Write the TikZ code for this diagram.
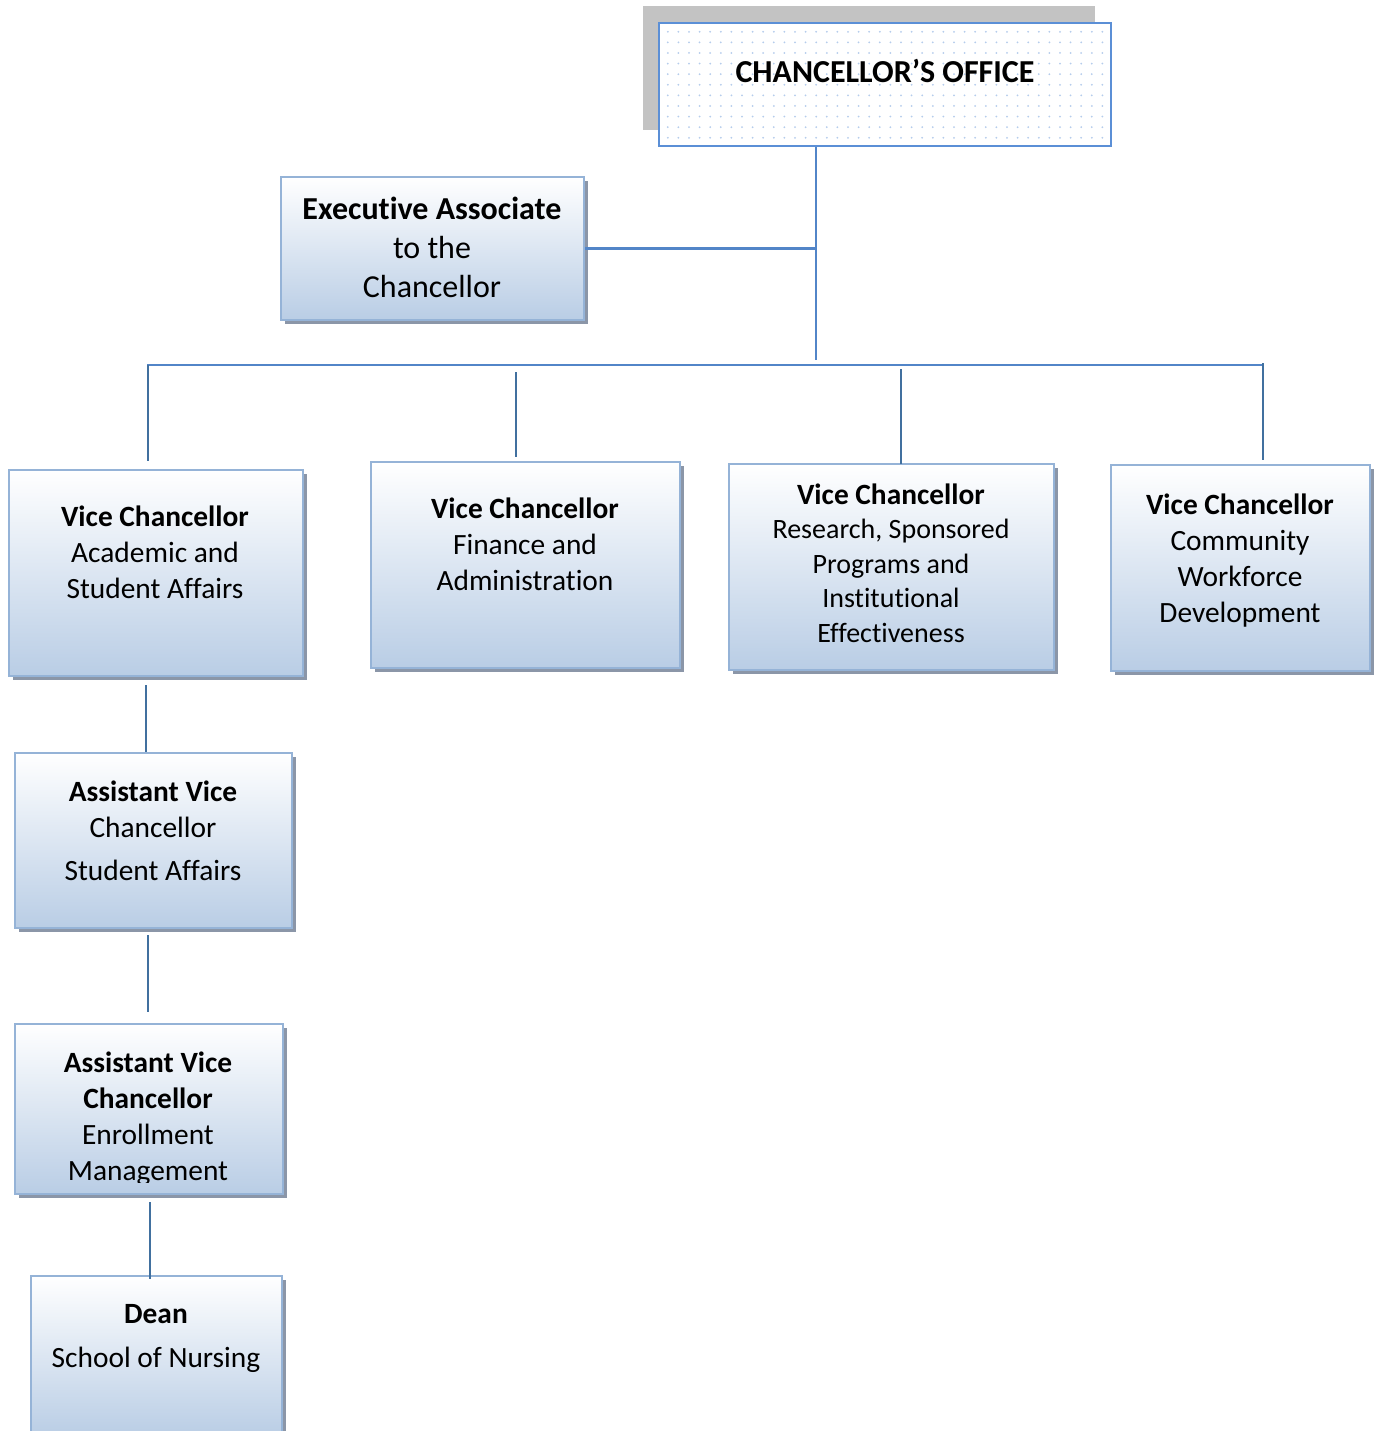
\documentclass[tikz,border=0pt]{standalone}
\usepackage{fontspec}
\setmainfont{Carlito}[Ligatures=NoCommon]
\usetikzlibrary{shadows,patterns.meta}
\definecolor{boxbot}{HTML}{B9CDE5}
\definecolor{boxline}{HTML}{95B3D7}
\definecolor{conn}{HTML}{5285C8}
\definecolor{dropc}{HTML}{41709F}
\definecolor{shade}{HTML}{8B96A8}
\definecolor{chanline}{HTML}{5B8FD6}
\definecolor{chanshadow}{HTML}{C3C3C3}
\definecolor{dotc}{HTML}{B5CCEC}
\begin{document}
\begin{tikzpicture}[x=0.5pt,y=-0.5pt,
  box/.style={draw=boxline, line width=1.2pt, top color=white, bottom color=boxbot, inner sep=0pt,
    drop shadow={shadow xshift=2pt,shadow yshift=-2pt,fill=shade,opacity=1}},
  lbl/.style={inner sep=0pt, align=center, font=\fontsize{14.7}{18}\selectfont},
  lblbig/.style={inner sep=0pt, align=center, font=\fontsize{16}{19.5}\selectfont},
  lblsmall/.style={inner sep=0pt, align=center, font=\fontsize{14}{17.2}\selectfont},
  connline/.style={draw=conn, line width=1.3pt},
  dropline/.style={draw=dropc, line width=1.3pt}]
\useasboundingbox (0,0) rectangle (1377,1431);
\fill[white] (0,0) rectangle (1377,1431);

% Chancellor's office
\node[fill=chanshadow, minimum width=226pt, minimum height=62pt, inner sep=0pt] (chanshadow) at (869,68) {};
\node[draw=chanline, line width=1pt, preaction={fill=white}, pattern={Dots[distance=5.3pt,radius=0.5pt]}, pattern color=dotc,
  minimum width=226pt, minimum height=61.5pt, inner sep=0pt] (chan) at (885,84.5) {};
\node[lblbig, font=\fontsize{16}{19.5}\selectfont\bfseries] (chant) at (885,71) {CHANCELLOR’S OFFICE};

% Executive associate
\node[box, minimum width=151.5pt, minimum height=71.5pt] (exec) at (432.5,248.5) {};
\node[lblbig] (exect) at (432,250.5) {\textbf{Executive Associate}\strut\\to the\\Chancellor\strut};

% Vice chancellors
\node[box, minimum width=147pt, minimum height=103pt] (vca) at (156,573) {};
\node[lbl] (vcat) at (155,555) {\textbf{Vice Chancellor}\strut\\Academic and\\Student Affairs\strut};

\node[box, minimum width=154.5pt, minimum height=103pt] (vcf) at (525.5,565) {};
\node[lbl] (vcft) at (525,547) {\textbf{Vice Chancellor}\strut\\Finance and\\Administration\strut};

\node[box, minimum width=162.5pt, minimum height=103pt] (vcr) at (891.5,567) {};
\node[lblsmall] (vcrt) at (891,566.5) {\textbf{\fontsize{14.7}{17.2}\selectfont Vice Chancellor}\strut\\Research, Sponsored\\Programs and\\Institutional\\Effectiveness\strut};

\node[box, minimum width=129.5pt, minimum height=103pt] (vcc) at (1240.5,568) {};
\node[lbl] (vcct) at (1240,561) {\textbf{Vice Chancellor}\strut\\Community\\Workforce\\Development\strut};

% Lower chain
\node[box, minimum width=138.5pt, minimum height=87.5pt] (avs) at (153.5,840.5) {};
\node[lbl] (avst) at (153,833.5) {\textbf{Assistant Vice}\strut\\Chancellor\\[3.5pt]Student Affairs\strut};

\node[box, minimum width=134pt, minimum height=85pt] (ave) at (149,1109) {};
\begin{scope}
  \clip (0,1000) rectangle (300,1182);
  \node[lbl] (avet) at (148,1119) {\textbf{Assistant Vice}\strut\\\textbf{Chancellor}\\Enrollment\\Management\strut};
\end{scope}

\node[box, minimum width=125.5pt, minimum height=80pt] (dean) at (156.5,1356) {};
\node[lbl] (deant) at (156,1338) {\textbf{Dean}\strut\\[4pt]School of Nursing\strut};

% Connectors
\coordinate (jc) at (816,360);
\draw[connline] (jc |- chan.south) -- (jc);
\draw[connline] (exec.east) -- (exec.east -| jc);
\coordinate (busL) at (147,365);
\coordinate (busR) at (1263,365);
\draw[connline] (busL) -- (busR);

\coordinate (a1) at (148,365); \coordinate (a2) at (148,461);
\coordinate (f1) at (516,372); \coordinate (f2) at (516,457);
\coordinate (r1) at (901,369); \coordinate (r2) at (901,464);
\coordinate (c1) at (1263,363); \coordinate (c2) at (1263,460);
\draw[dropline] (a1) -- (a2);
\draw[dropline] (f1) -- (f2);
\draw[dropline] (r1) -- (r2);
\draw[dropline] (c1) -- (c2);

\coordinate (s1) at (146,685); \coordinate (s2) at (146,752);
\coordinate (e1) at (148,935); \coordinate (e2) at (148,1012);
\coordinate (n1) at (150,1202); \coordinate (n2) at (150,1279);
\draw[dropline] (s1) -- (s2);
\draw[dropline] (e1) -- (e2);
\draw[dropline] (n1) -- (n2);
\end{tikzpicture}
\end{document}
